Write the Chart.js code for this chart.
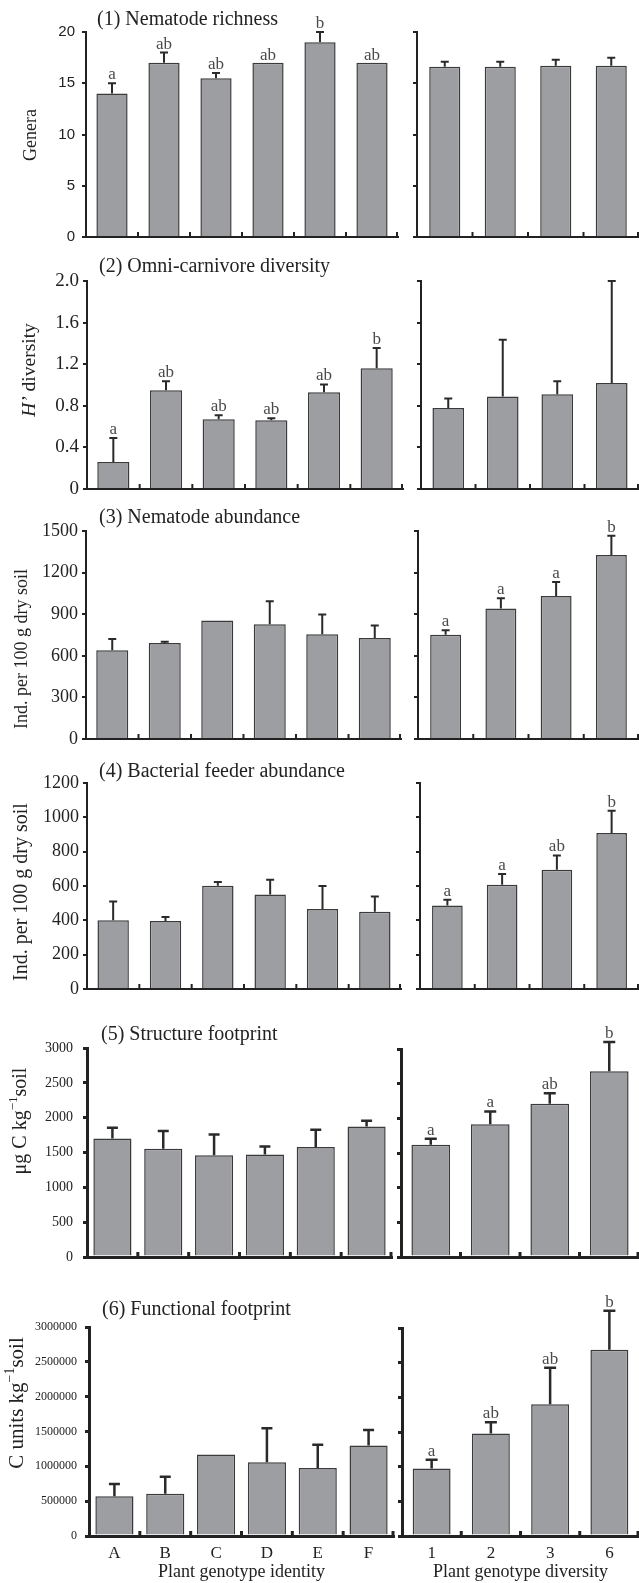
<!DOCTYPE html>
<html><head><meta charset="utf-8">
<script src="https://cdn.jsdelivr.net/npm/chart.js@4/dist/chart.umd.min.js"></script>
<style>
html,body{margin:0;padding:0;background:#fff}
body{position:relative;width:639px;height:1583px;overflow:hidden}
canvas{position:absolute;left:0}
</style></head><body>
<script>
// ---------- DATA ----------
const identity = ['A','B','C','D','E','F'];
const diversity = ['1','2','3','6'];

const richnessIdMean = [14, 17, 15.5, 17, 19, 17];
const richnessIdSE   = [1, 1, 0.5, 0, 1, 0];
const richnessIdLetters = ['a','ab','ab','ab','b','ab'];
const richnessDivMean = [16.6, 16.6, 16.7, 16.7];
const richnessDivSE   = [0.5, 0.5, 0.6, 0.8];
const richnessTicks = ['0','5','10','15','20'];

const omniIdMean = [0.26, 0.95, 0.67, 0.66, 0.93, 1.16];
const omniIdSE   = [0.23, 0.085, 0.04, 0.02, 0.075, 0.195];
const omniIdLetters = ['a','ab','ab','ab','ab','b'];
const omniDivMean = [0.78, 0.89, 0.91, 1.02];
const omniDivSE   = [0.09, 0.545, 0.125, 0.98];
const omniTicks = ['0','0.4','0.8','1.2','1.6','2.0'];

const abundIdMean = [640, 692, 854, 827, 755, 728];
const abundIdSE   = [81, 10, 0, 166, 142, 90];
const abundDivMean = [751, 941, 1032, 1327];
const abundDivSE   = [34, 74, 101, 139];
const abundDivLetters = ['a','a','a','b'];
const abundTicks = ['0','300','600','900','1200','1500'];

const bactIdMean = [400, 396, 602, 551, 466, 450];
const bactIdSE   = [110, 23, 21, 86, 134, 89];
const bactDivMean = [487, 608, 695, 909];
const bactDivSE   = [33, 62, 83, 130];
const bactDivLetters = ['a','a','ab','b'];
const bactTicks = ['0','200','400','600','800','1000','1200'];

const structIdMean = [1700, 1555, 1460, 1470, 1580, 1875];
const structIdSE   = [155, 255, 300, 115, 245, 80];
const structDivMean = [1620, 1915, 2210, 2680];
const structDivSE   = [85, 185, 150, 420];
const structDivLetters = ['a','a','ab','b'];
const structTicks = ['0','500','1000','1500','2000','2500','3000'];

const funcIdMean = [570000, 605000, 1170000, 1060000, 975000, 1300000];
const funcIdSE   = [175000, 245000, 0, 485000, 335000, 220000];
const funcDivMean = [975000, 1480000, 1900000, 2685000];
const funcDivSE   = [125000, 160000, 525000, 565000];
const funcDivLetters = ['a','ab','ab','b'];
const funcTicks = ['0','500000','1000000','1500000','2000000','2500000','3000000'];

// ---------- STYLE / LAYOUT ----------
const SERIF = '"Liberation Serif", "Times New Roman", serif';
const SANS = '"Liberation Sans", Arial, sans-serif';
const INK = '#222';

const panels = [
  // row 1
  {band:[0,255], plot:{l:86,r:398,t:32,b:237}, labels:identity, mean:richnessIdMean, se:richnessIdSE, letters:richnessIdLetters,
   max:20, step:5, tickLabels:richnessTicks, showTicks:true, tickFont:{family:SANS,size:15}, tickPad:7, barPct:0.6, axisW:2, errW:2, capW:8,
   title:'(1) Nematode richness', titlePos:[97,20], yTitle:[{t:'Genera',size:18}], yTitlePos:[31,135]},
  {band:[0,255], plot:{l:417,r:639,t:32,b:237}, labels:diversity, mean:richnessDivMean, se:richnessDivSE, letters:null,
   max:20, step:5, tickLabels:richnessTicks, showTicks:false, tickFont:{family:SANS,size:15}, tickPad:7, barPct:0.56, axisW:2, errW:2, capW:8},
  // row 2
  {band:[255,505], plot:{l:87,r:403,t:281,b:489}, labels:identity, mean:omniIdMean, se:omniIdSE, letters:omniIdLetters,
   max:2, step:0.4, tickLabels:omniTicks, showTicks:true, tickFont:{family:SERIF,size:19}, tickPad:4, barPct:0.61, axisW:2, errW:2, capW:8,
   title:'(2) Omni-carnivore diversity', titlePos:[99,267], yTitle:[{t:'H\u2019',size:19.5,italic:true},{t:' diversity',size:19.5}], yTitlePos:[30,370]},
  {band:[255,505], plot:{l:421,r:639,t:281,b:489}, labels:diversity, mean:omniDivMean, se:omniDivSE, letters:null,
   max:2, step:0.4, tickLabels:omniTicks, showTicks:false, tickFont:{family:SERIF,size:19}, tickPad:4, barPct:0.58, axisW:2, errW:2, capW:8},
  // row 3
  {band:[505,760], plot:{l:86,r:401,t:531,b:739}, labels:identity, mean:abundIdMean, se:abundIdSE, letters:null,
   max:1500, step:300, tickLabels:abundTicks, showTicks:true, tickFont:{family:SERIF,size:18}, tickPad:4, barPct:0.61, axisW:2, errW:2, capW:8,
   title:'(3) Nematode abundance', titlePos:[99,518], yTitle:[{t:'Ind. per 100 g dry soil',size:18}], yTitlePos:[22,649]},
  {band:[505,760], plot:{l:418,r:639,t:531,b:739}, labels:diversity, mean:abundDivMean, se:abundDivSE, letters:abundDivLetters,
   max:1500, step:300, tickLabels:abundTicks, showTicks:false, tickFont:{family:SERIF,size:18}, tickPad:4, barPct:0.56, axisW:2, errW:2, capW:8},
  // row 4
  {band:[760,1010], plot:{l:87,r:401,t:783,b:989}, labels:identity, mean:bactIdMean, se:bactIdSE, letters:null,
   max:1200, step:200, tickLabels:bactTicks, showTicks:true, tickFont:{family:SERIF,size:18}, tickPad:4, barPct:0.6, axisW:2, errW:2, capW:8,
   title:'(4) Bacterial feeder abundance', titlePos:[99,772], yTitle:[{t:'Ind. per 100 g dry soil',size:20}], yTitlePos:[22,892]},
  {band:[760,1010], plot:{l:420,r:639,t:783,b:989}, labels:diversity, mean:bactDivMean, se:bactDivSE, letters:bactDivLetters,
   max:1200, step:200, tickLabels:bactTicks, showTicks:false, tickFont:{family:SERIF,size:18}, tickPad:4, barPct:0.56, axisW:2, errW:2, capW:8},
  // row 5
  {band:[1010,1295], plot:{l:87,r:392,t:1048,b:1257}, labels:identity, mean:structIdMean, se:structIdSE, letters:null,
   max:3000, step:500, tickLabels:structTicks, showTicks:true, tickFont:{family:SERIF,size:14}, tickPad:10, barPct:0.75, axisW:3, errW:2.5, capW:11,
   title:'(5) Structure footprint', titlePos:[101,1035], yTitle:[{t:'\u03bcg C kg',size:20},{t:'\u22121',size:13,dy:-7},{t:'soil',size:20}], yTitlePos:[21,1121]},
  {band:[1010,1295], plot:{l:401,r:639,t:1049,b:1257}, labels:diversity, mean:structDivMean, se:structDivSE, letters:structDivLetters,
   max:3000, step:500, tickLabels:structTicks, showTicks:false, tickFont:{family:SERIF,size:14}, tickPad:10, barPct:0.65, axisW:3, errW:2.5, capW:12},
  // row 6
  {band:[1295,1583], plot:{l:89,r:394,t:1327,b:1536}, labels:identity, mean:funcIdMean, se:funcIdSE, letters:null,
   max:3000000, step:500000, tickLabels:funcTicks, showTicks:true, tickFont:{family:SERIF,size:12}, tickPad:8, barPct:0.75, axisW:3, errW:2.5, capW:11,
   title:'(6) Functional footprint', titlePos:[102,1310], yTitle:[{t:'C units kg',size:21},{t:'\u22121',size:14,dy:-7},{t:'soil',size:21}], yTitlePos:[17,1403],
   xTitle:'Plant genotype identity'},
  {band:[1295,1583], plot:{l:402,r:639,t:1328,b:1536}, labels:diversity, mean:funcDivMean, se:funcDivSE, letters:funcDivLetters,
   max:3000000, step:500000, tickLabels:funcTicks, showTicks:false, tickFont:{family:SERIF,size:12}, tickPad:8, barPct:0.64, axisW:3, errW:2.5, capW:12,
   xTitle:'Plant genotype diversity'}
];

function fontStr(p){ return (p.italic ? 'italic ' : '') + p.size + 'px ' + SERIF; }

function drawRich(ctx, parts, cx, cy, rotate){
  ctx.save();
  ctx.translate(cx, cy);
  if (rotate) ctx.rotate(-Math.PI/2);
  let total = 0;
  const widths = parts.map(p => { ctx.font = fontStr(p); const w = ctx.measureText(p.t).width; total += w; return w; });
  let x = -total/2;
  ctx.textAlign = 'left'; ctx.textBaseline = 'middle'; ctx.fillStyle = INK;
  parts.forEach((p,i) => { ctx.font = fontStr(p); ctx.fillText(p.t, x, p.dy || 0); x += widths[i]; });
  ctx.restore();
}

const deco = {
  id: 'deco',
  afterDatasetsDraw(chart, args, o) {
    const ctx = chart.ctx, ca = chart.chartArea;
    const xs = chart.scales.x, ys = chart.scales.y;
    const meta = chart.getDatasetMeta(0);
    const data = chart.data.datasets[0].data;
    const n = chart.data.labels.length;
    ctx.save();
    // inward x tick marks between categories
    ctx.strokeStyle = INK; ctx.lineWidth = o.axisW;
    for (let i = 1; i <= n; i++) {
      const px = i < n ? (xs.getPixelForValue(i-1) + xs.getPixelForValue(i)) / 2 : ca.right - 1;
      ctx.beginPath(); ctx.moveTo(px, ca.bottom); ctx.lineTo(px, ca.bottom - 5); ctx.stroke();
    }
    // error bars (upper) and letters
    meta.data.forEach((bar, i) => {
      const m = data[i], s = o.se[i];
      let topY = ys.getPixelForValue(m);
      if (s > 0) {
        const ty = ys.getPixelForValue(m + s);
        ctx.strokeStyle = '#2a2a2a'; ctx.lineWidth = o.errW;
        ctx.beginPath(); ctx.moveTo(bar.x, topY); ctx.lineTo(bar.x, ty);
        ctx.moveTo(bar.x - o.capW/2, ty); ctx.lineTo(bar.x + o.capW/2, ty); ctx.stroke();
        topY = ty - 1;
      }
      if (o.letters && o.letters[i]) {
        ctx.fillStyle = '#4a4a4a'; ctx.font = '17px ' + SERIF;
        ctx.textAlign = 'center'; ctx.textBaseline = 'alphabetic';
        ctx.fillText(o.letters[i], bar.x, topY - 3);
      }
    });
    // panel title
    if (o.title) {
      ctx.fillStyle = INK; ctx.font = '20px ' + SERIF; ctx.textAlign = 'left'; ctx.textBaseline = 'middle';
      ctx.fillText(o.title, o.titlePos[0], o.titlePos[1] - o.top);
    }
    if (o.yTitle) drawRich(ctx, o.yTitle, o.yTitlePos[0], o.yTitlePos[1] - o.top, true);
    ctx.restore();
  }
};

panels.forEach(p => {
  const h = p.band[1] - p.band[0];
  const c = document.createElement('canvas');
  c.width = 639; c.height = h;
  c.style.top = p.band[0] + 'px'; c.style.width = '639px'; c.style.height = h + 'px';
  document.body.appendChild(c);
  const xH = p.xTitle ? (p.band[1] - p.plot.b) : 4;
  new Chart(c, {
    type: 'bar',
    data: { labels: p.labels, datasets: [{ data: p.mean, backgroundColor: '#9d9ea2', borderColor: '#3a3a3a', borderWidth: 1.5,
      categoryPercentage: 1, barPercentage: p.barPct }] },
    options: {
      responsive: false, animation: false, devicePixelRatio: 1,
      layout: { padding: { left: 0, top: p.plot.t - p.band[0], right: 639 - p.plot.r, bottom: h - (p.plot.b - p.band[0]) - xH } },
      plugins: { legend: { display: false }, tooltip: { enabled: false },
        deco: { se: p.se, letters: p.letters, axisW: p.axisW, errW: p.errW, capW: p.capW, title: p.title, titlePos: p.titlePos,
                yTitle: p.yTitle, yTitlePos: p.yTitlePos, top: p.band[0] } },
      scales: {
        x: {
          grid: { display: false, drawTicks: false },
          border: { display: true, color: INK, width: p.axisW },
          ticks: { display: !!p.xTitle, font: { family: SERIF, size: 17 }, color: INK, padding: 7, autoSkip: false, maxRotation: 0 },
          title: { display: !!p.xTitle, text: p.xTitle || '', font: { family: SERIF, size: 18 }, color: INK, padding: { top: 0, bottom: 0 } },
          afterFit: s => { s.height = xH; }
        },
        y: {
          min: 0, max: p.max,
          ticks: { stepSize: p.step, display: p.showTicks, callback: (v, i) => p.tickLabels[i], font: p.tickFont, color: INK, padding: p.tickPad },
          grid: { display: true, drawOnChartArea: false, drawTicks: true, tickLength: 4, color: INK, lineWidth: p.axisW },
          border: { display: true, color: INK, width: p.axisW },
          afterFit: s => { s.width = p.plot.l; }
        }
      }
    },
    plugins: [deco]
  });
});
</script>
</body></html>
